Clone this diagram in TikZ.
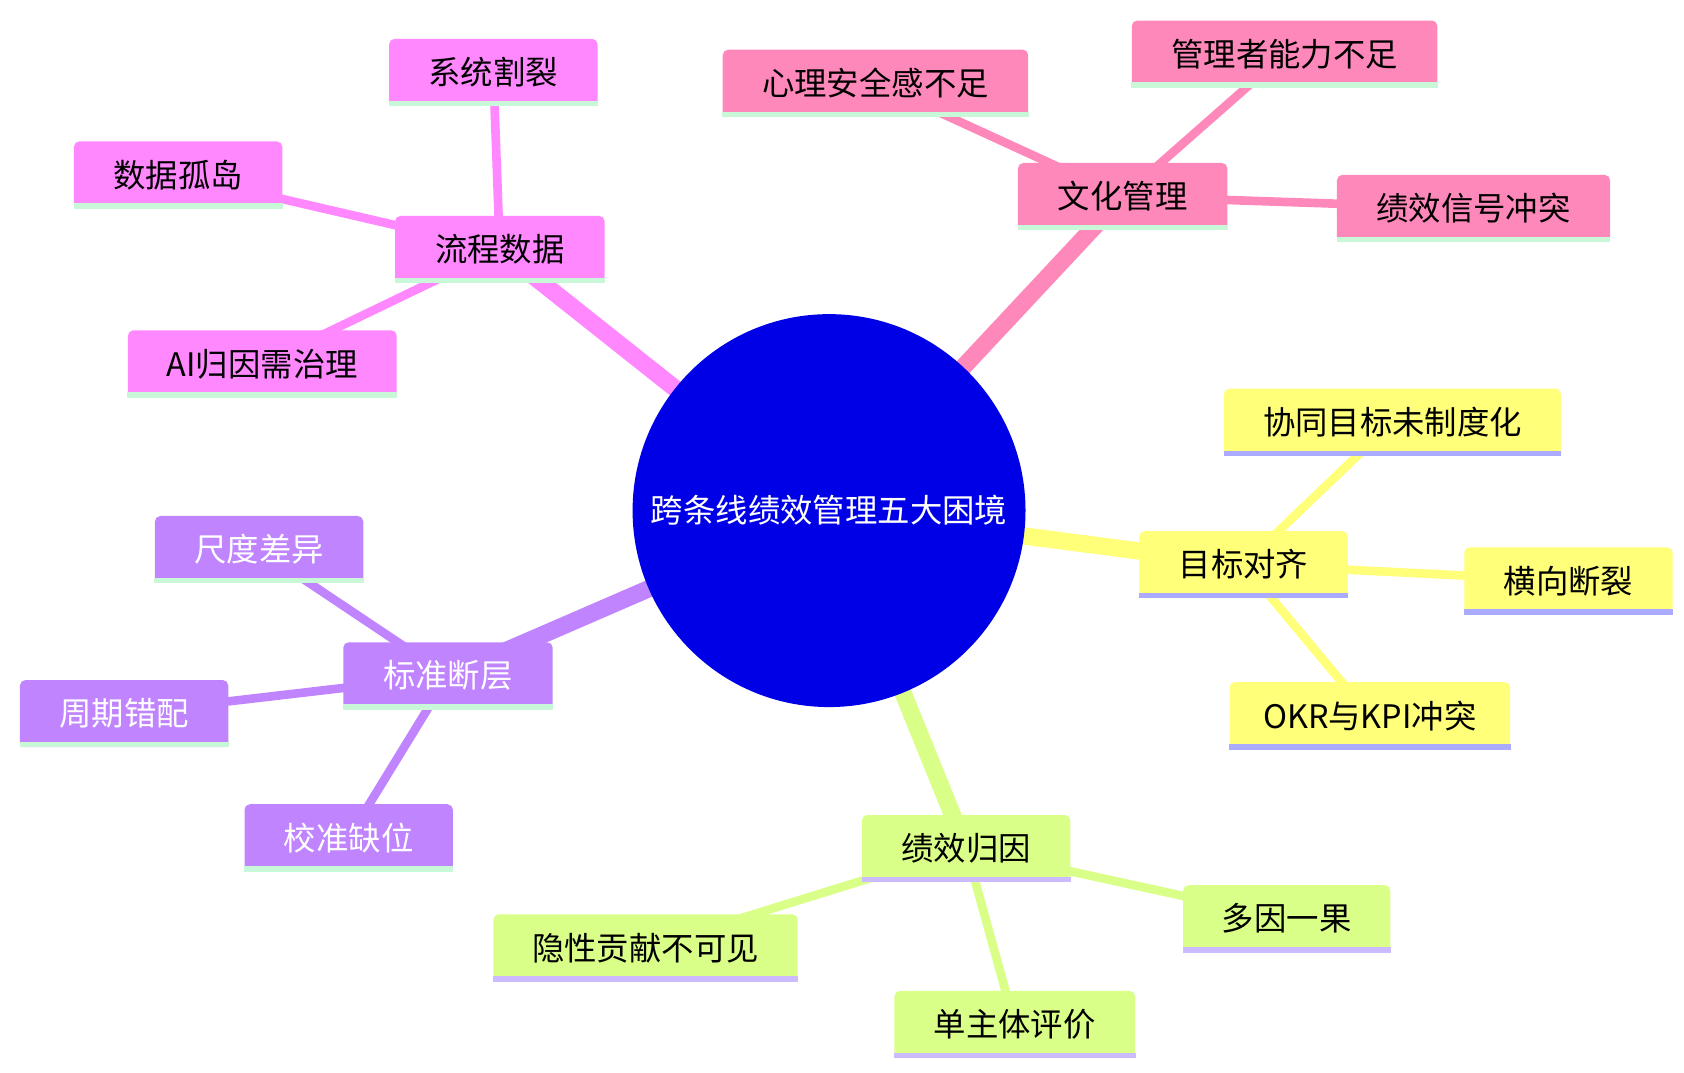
\documentclass[tikz,border=0pt]{standalone}
\usepackage{fontspec}
\setmainfont{Noto Sans CJK SC}
\definecolor{cpink}{HTML}{FF88BB}
\definecolor{cmag}{HTML}{FF88FF}
\definecolor{cpur}{HTML}{C084FF}
\definecolor{cgrn}{HTML}{DAFF88}
\definecolor{cyel}{HTML}{FFFF7A}
\definecolor{ulg}{HTML}{C8F8D8}
\definecolor{ulp}{HTML}{CCBBFF}
\definecolor{uly}{HTML}{AAAAFF}
\definecolor{rootblue}{HTML}{0000E6}
\newcommand\bx[7]{% name,x,y,w,fill,underline,text
\node[box, fill=#5, minimum width=#4*0.5pt] (#1) at (#2,#3) {#7};
\draw[line width=2.5pt, #6] ([yshift=1.25pt]#1.south west) -- ([yshift=1.25pt]#1.south east);}
\begin{document}
\begin{tikzpicture}[x=0.5pt,y=-0.5pt,
 box/.style={rounded corners=2.5pt, minimum height=31pt, inner sep=0pt, font=\fontsize{15}{15}\selectfont},
 thick1/.style={line width=8pt},
 thin1/.style={line width=4pt}]
\useasboundingbox (0,0) rectangle (1560,994);
\coordinate (R) at (768,473);
% edges
\draw[thick1,cpink] (R) -- (1040,182);
\draw[thick1,cmag] (R) -- (463,231);
\draw[thick1,cpur] (R) -- (415,626);
\draw[thick1,cgrn] (R) -- (895,786);
\draw[thick1,cyel] (R) -- (1152,523);
\draw[thin1,cpink] (1040,182) -- (811,77) (1040,182) -- (1190,50) (1040,182) -- (1365,193);
\draw[thin1,cmag] (463,231) -- (457,67) (463,231) -- (165,162) (463,231) -- (243,337);
\draw[thin1,cpur] (415,626) -- (240,509) (415,626) -- (115,661) (415,626) -- (323,776);
\draw[thin1,cgrn] (895,786) -- (598,878) (895,786) -- (940,949) (895,786) -- (1192,851);
\draw[thin1,cyel] (1152,523) -- (1290,391) (1152,523) -- (1453,538) (1152,523) -- (1269,663);
% root
\node[circle, fill=rootblue, minimum size=182pt, inner sep=0pt, text=white, font=\fontsize{15}{15}\selectfont] (root) at (R) {跨条线绩效管理五大困境};
% branches
\bx{wh}{1040}{182}{194}{cpink}{ulg}{文化管理}
\bx{wh1}{811}{77}{283}{cpink}{ulg}{心理安全感不足}
\bx{wh2}{1190}{50}{283}{cpink}{ulg}{管理者能力不足}
\bx{wh3}{1365}{193}{253}{cpink}{ulg}{绩效信号冲突}
\bx{lc}{463}{231}{194}{cmag}{ulg}{流程数据}
\bx{lc1}{457}{67}{193}{cmag}{ulg}{系统割裂}
\bx{lc2}{165}{162}{193}{cmag}{ulg}{数据孤岛}
\bx{lc3}{243}{337}{249}{cmag}{ulg}{AI归因需治理}
\bx{bz}{415}{626}{194}{cpur}{ulg}{\color{white}标准断层}
\bx{bz1}{240}{509}{193}{cpur}{ulg}{\color{white}尺度差异}
\bx{bz2}{115}{661}{193}{cpur}{ulg}{\color{white}周期错配}
\bx{bz3}{323}{776}{193}{cpur}{ulg}{\color{white}校准缺位}
\bx{jx}{895}{786}{193}{cgrn}{ulp}{绩效归因}
\bx{jx1}{598}{878}{282}{cgrn}{ulp}{隐性贡献不可见}
\bx{jx2}{940}{949}{223}{cgrn}{ulp}{单主体评价}
\bx{jx3}{1192}{851}{192}{cgrn}{ulp}{多因一果}
\bx{mb}{1152}{523}{193}{cyel}{uly}{目标对齐}
\bx{mb1}{1290}{391}{312}{cyel}{uly}{协同目标未制度化}
\bx{mb2}{1453}{538}{193}{cyel}{uly}{横向断裂}
\bx{mb3}{1269}{663}{260}{cyel}{uly}{OKR与KPI冲突}
\end{tikzpicture}
\end{document}
